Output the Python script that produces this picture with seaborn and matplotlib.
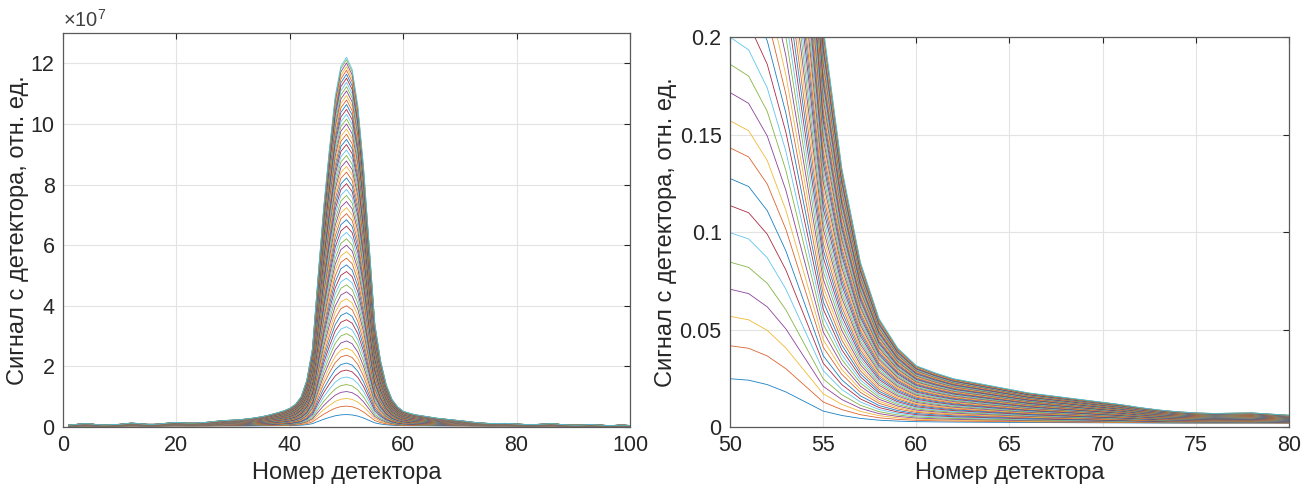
import numpy as np
import pandas as pd
import matplotlib
matplotlib.use("Agg")
import matplotlib.pyplot as plt
import seaborn as sns
from matplotlib.ticker import FuncFormatter

# ---------------- data ----------------
detector = np.arange(1, 101)

# upper envelope curve (largest signal), units of 1e7
top_profile = np.array([
    0.06, 0.08, 0.10, 0.11, 0.10, 0.08, 0.07, 0.07, 0.08, 0.09,
    0.11, 0.13, 0.12, 0.10, 0.09, 0.09, 0.10, 0.12, 0.14, 0.15,
    0.14, 0.13, 0.13, 0.14, 0.15, 0.17, 0.19, 0.21, 0.22, 0.23,
    0.24, 0.26, 0.28, 0.31, 0.34, 0.38, 0.43, 0.48, 0.54, 0.62,
    0.75, 1.00, 1.55, 2.60, 5.00, 7.30, 9.20, 10.9, 11.9, 12.2,
    11.8, 10.6, 8.60, 6.00, 3.40, 2.20, 1.40, 0.92, 0.67, 0.52,
    0.46, 0.41, 0.38, 0.35, 0.32, 0.29, 0.27, 0.25, 0.23, 0.21,
    0.19, 0.165, 0.145, 0.13, 0.12, 0.115, 0.118, 0.12, 0.11, 0.10,
    0.09, 0.08, 0.08, 0.09, 0.10, 0.11, 0.10, 0.08, 0.07, 0.06,
    0.06, 0.07, 0.08, 0.07, 0.06, 0.05, 0.05, 0.06, 0.06, 0.05])

# peak value of every curve at detector 50, units of 1e7
peaks = [0.41, 0.69, 0.94, 1.17, 1.40, 1.65, 1.88, 2.11, 2.37, 2.60,
         2.84, 3.08, 3.31, 3.54, 3.77, 4.00, 4.23, 4.46, 4.69, 4.91,
         5.13, 5.35, 5.57, 5.79, 6.00, 6.21, 6.42, 6.63, 6.84, 7.04,
         7.24, 7.44, 7.64, 7.84, 8.03, 8.22, 8.41, 8.60, 8.78, 8.96,
         9.14, 9.32, 9.49, 9.66, 9.83, 10.00, 10.16, 10.32, 10.48, 10.64,
         10.79, 10.94, 11.09, 11.23, 11.37, 11.51, 11.64, 11.77, 11.89, 12.01,
         12.12, 12.20]

base_level = 0.03          # common background, units of 1e7
rel_per_1e7 = 0.0604       # relative units (right panel) per 1e7 raw units

# ---------------- build long-form table ----------------
shape = (top_profile - base_level) / (top_profile.max() - base_level)
rows = []
for k, p in enumerate(peaks):
    sig = base_level + (p - base_level) * shape
    rows.append(pd.DataFrame({"detector": detector, "signal": sig, "curve": k}))
df = pd.concat(rows, ignore_index=True)
df["relative"] = df["signal"] * rel_per_1e7

matlab_colors = ["#0072BD", "#D95319", "#EDB120", "#7E2F8E",
                 "#77AC30", "#4DBEEE", "#A2142F"]
palette = [matlab_colors[i % 7] for i in range(len(peaks))]

# ---------------- style ----------------
sns.set_style("white")
plt.rcParams["font.family"] = ["Liberation Sans", "DejaVu Sans"]
plt.rcParams["mathtext.fontset"] = "custom"
plt.rcParams["mathtext.rm"] = "Liberation Sans"
plt.rcParams["mathtext.it"] = "Liberation Sans:italic"

fig = plt.figure(figsize=(13.16, 4.91), dpi=100)
ax1 = fig.add_axes([63 / 1316, 64 / 491, 567 / 1316, 394 / 491])
ax2 = fig.add_axes([730 / 1316, 64 / 491, 559 / 1316, 390 / 491])

edge = "#262626"
fs = 15.5
lfs = 17

def style(ax):
    ax.grid(True, color="#E3E3E3", lw=0.8)
    ax.set_axisbelow(True)
    for s in ax.spines.values():
        s.set_visible(True)
        s.set_color("#5a5a5a")
        s.set_linewidth(0.9)
    ax.tick_params(direction="in", length=4, width=0.8, colors=edge,
                   labelsize=fs, top=True, right=True, pad=6)
    for lab in ax.get_xticklabels() + ax.get_yticklabels():
        lab.set_color(edge)

lw = 0.6
sns.lineplot(data=df, x="detector", y="signal", hue="curve", palette=palette,
             legend=False, lw=lw, alpha=0.9, estimator=None, sort=False, ax=ax1)
ax1.set_xlim(0, 100)
ax1.set_ylim(0, 13)
ax1.set_xticks(np.arange(0, 101, 20))
ax1.set_yticks(np.arange(0, 13, 2))
ax1.set_xlabel("Номер детектора", fontsize=lfs, color=edge, labelpad=4)
ax1.set_ylabel("Сигнал с детектора, отн. ед.", fontsize=lfs, color=edge, labelpad=1)
ax1.text(0.0, 1.006, r"$\times\mathregular{10^{7}}$", transform=ax1.transAxes,
         fontsize=fs - 1, color="#404040", ha="left", va="bottom")
style(ax1)

sns.lineplot(data=df, x="detector", y="relative", hue="curve", palette=palette,
             legend=False, lw=lw, alpha=0.9, estimator=None, sort=False, ax=ax2)
ax2.set_xlim(50, 80)
ax2.set_ylim(0, 0.2)
ax2.set_xticks(np.arange(50, 81, 5))
ax2.set_yticks([0, 0.05, 0.1, 0.15, 0.2])
ax2.yaxis.set_major_formatter(FuncFormatter(lambda v, p: f"{v:g}"))
ax2.set_xlabel("Номер детектора", fontsize=lfs, color=edge, labelpad=4)
ax2.set_ylabel("Сигнал с детектора, отн. ед.", fontsize=lfs, color=edge, labelpad=2)
style(ax2)

fig.savefig("out.png", dpi=100)
